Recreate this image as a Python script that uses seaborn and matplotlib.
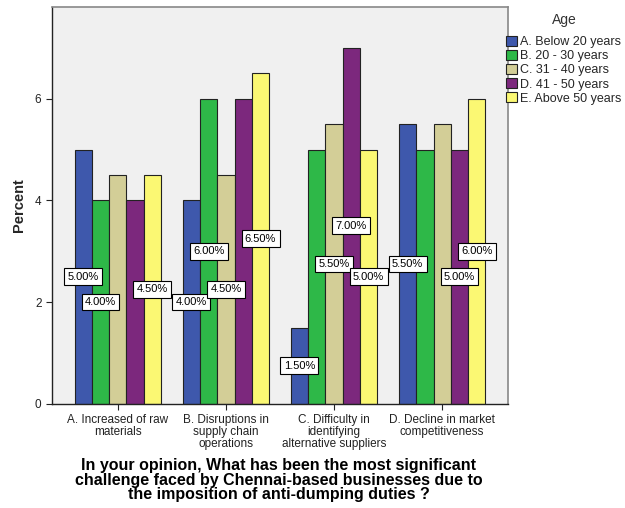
import pandas as pd
import numpy as np
import matplotlib
matplotlib.use("Agg")
import matplotlib.pyplot as plt
import seaborn as sns

# ---- data ----
challenges = [
    "A. Increased of raw\nmaterials",
    "B. Disruptions in\nsupply chain\noperations",
    "C. Difficulty in\nidentifying\nalternative suppliers",
    "D. Decline in market\ncompetitiveness",
]
age_groups = ["A. Below 20 years", "B. 20 - 30 years", "C. 31 - 40 years",
              "D. 41 - 50 years", "E. Above 50 years"]
below_20 = [5.0, 4.0, 1.5, 5.5]
age_20_30 = [4.0, 6.0, 5.0, 5.0]
age_31_40 = [4.5, 4.5, 5.5, 5.5]
age_41_50 = [4.0, 6.0, 7.0, 5.0]
above_50 = [4.5, 6.5, 5.0, 6.0]

# labels the original chart drops because they collide (age index, challenge index)
hidden_labels = [(2, 0), (3, 0), (3, 1), (1, 2), (1, 3), (2, 3)]

palette = ["#3E58AC", "#2EB848", "#D3CE97", "#7C287D", "#FBF873"]

series = [below_20, age_20_30, age_31_40, age_41_50, above_50]
rows = []
for grp, vals in zip(age_groups, series):
    for ch, v in zip(challenges, vals):
        rows.append({"challenge": ch, "Age": grp, "percent": v})
df = pd.DataFrame(rows)

sns.set_style("white")
plt.rcParams["font.family"] = ["Liberation Sans", "DejaVu Sans"]

fig = plt.figure(figsize=(6.25, 5.08), dpi=100)
ax = fig.add_axes([0.083, 0.205, 0.730, 0.781])
ax.set_facecolor("#F0F0F0")

sns.barplot(data=df, x="challenge", y="percent", hue="Age", order=challenges,
            hue_order=age_groups, palette=palette, width=0.8, saturation=1,
            edgecolor="#222222", linewidth=0.8, errorbar=None, ax=ax)

# value labels at half bar height, SPSS style
for si, cont in enumerate(ax.containers):
    for ci, bar in enumerate(cont):
        if (si, ci) in hidden_labels:
            continue
        h = bar.get_height()
        ax.text(bar.get_x() + bar.get_width() / 2, h / 2, f"{h:.2f}%",
                ha="center", va="center", fontsize=8, color="black", zorder=5,
                bbox=dict(boxstyle="square,pad=0.3", fc="white", ec="black", lw=0.8))

ax.set_ylim(0, 7.8)
ax.set_xlim(-0.61, 3.61)
ax.set_yticks([0, 2, 4, 6])
ax.set_yticklabels(["0", "2", "4", "6"])
ax.tick_params(axis="both", which="both", direction="out", length=4, width=0.8,
               colors="#222222", labelsize=8.5, left=True, bottom=True)
ax.set_ylabel("Percent", fontsize=10.5, fontweight="bold", labelpad=6)
ax.set_xlabel("")
for lbl in ax.get_xticklabels():
    lbl.set_linespacing(0.98)

# axis title placed directly under the tick labels
fig.text(0.446, 1 - 458 / 508,
         "In your opinion, What has been the most significant\n"
         "challenge faced by Chennai-based businesses due to\n"
         "the imposition of anti-dumping duties ?",
         ha="center", va="top", fontsize=11.5, fontweight="bold",
         linespacing=0.97, color="black")

for side in ["top", "right"]:
    ax.spines[side].set_color("#888888")
    ax.spines[side].set_linewidth(1.2)
for side in ["left", "bottom"]:
    ax.spines[side].set_color("#222222")
    ax.spines[side].set_linewidth(1.0)

leg = ax.legend(title="Age", loc="upper left", bbox_to_anchor=(0.985, 0.997),
                frameon=False, fontsize=9, title_fontsize=10,
                handlelength=0.85, handleheight=0.85, handletextpad=0.25,
                labelspacing=0.15, borderaxespad=0.0)
leg.get_title().set_color("#333333")
leg._legend_box.sep = 6

fig.savefig("out.png", dpi=100)
